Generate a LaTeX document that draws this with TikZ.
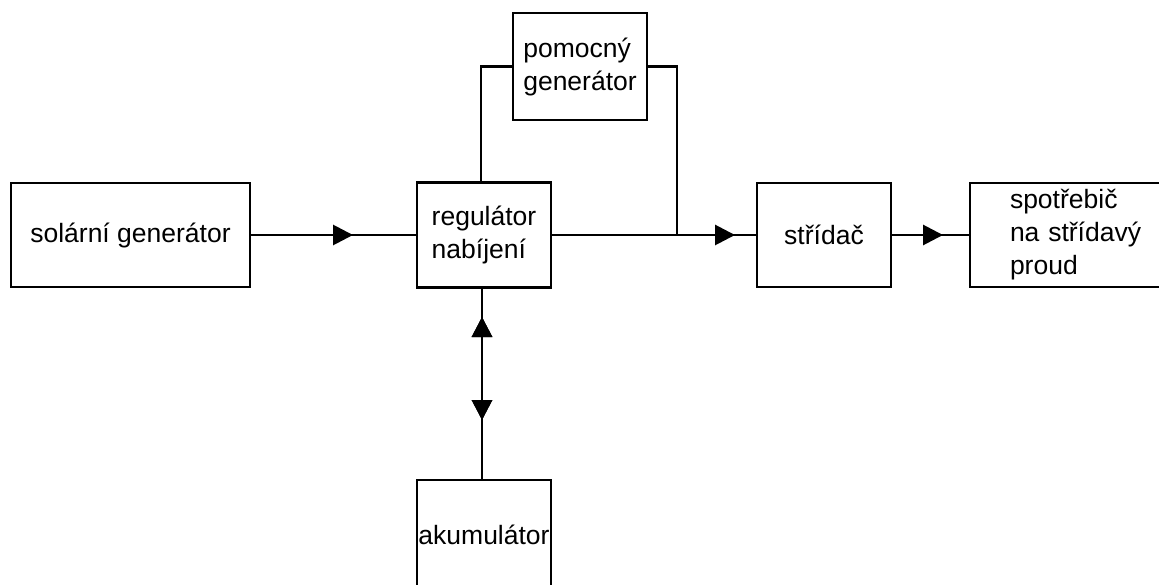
\documentclass[tikz,border=0pt]{standalone}
\usepackage{fontspec}
\setmainfont{Liberation Sans}
\usetikzlibrary{arrows.meta,decorations.markings}
\begin{document}
\begin{tikzpicture}[x=1pt,y=-1pt,
  blk/.style={draw,line width=2.9pt,inner sep=0pt,outer sep=0pt,
    font=\fontsize{26.5}{33}\selectfont,align=left},
  wire/.style={line width=2.9pt},
  headat/.style={postaction={decorate},decoration={markings,
    mark=at position #1 with {\arrow{Triangle[length=20pt,width=20pt]}}}},
  backat/.style={postaction={decorate},decoration={markings,
    mark=at position #1 with {\arrowreversed{Triangle[length=20pt,width=20pt]}}}}
]
\useasboundingbox (0,0) rectangle (1159,585);
\fill[white] (0,0) rectangle (1159,585);
\clip (0,0) rectangle (1159,585);

% blocks
\node[blk,minimum width=239pt,minimum height=104pt] (sol) at (130.5,235) {sol\'arn\'i gener\'ator};
\node[blk,minimum width=134pt,minimum height=105pt] (reg) at (484,235) {regul\'ator\\nab\'ijen\'i};
\node[blk,minimum width=134pt,minimum height=107pt] (pom) at (580,66.5) {pomocn\'y\\gener\'ator};
\node[blk,minimum width=134pt,minimum height=104pt] (str) at (824,235) {st\v{r}\'ida\v{c}};
\node[blk,minimum width=220pt,minimum height=104pt,text width=140pt] (spo) at (1080,235)
  {spot\v{r}ebi\v{c}\\na st\v{r}\'idav\'y\\proud};
\node[blk,minimum width=134pt,minimum height=110pt] (aku) at (484,535) {akumul\'ator};

\coordinate (j) at (677,235);

% connections
\draw[wire,headat=103pt] (sol.east) -- (reg.west);
\draw[wire,headat=184pt] (reg.east) -- (str.west);
\draw[wire,headat=52pt] (str.east) -- (spo.west);
\draw[wire] ([xshift=-3pt]reg.north) |- (pom.west);
\draw[wire] (pom.east) -| (j);
\draw[wire,backat=29.5pt,headat=132.5pt] ([xshift=-2pt]reg.south) -- ([xshift=-2pt]aku.north);
\end{tikzpicture}
\end{document}
